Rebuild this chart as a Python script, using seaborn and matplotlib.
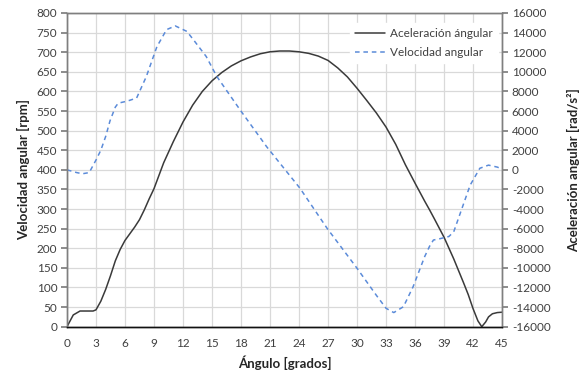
# Ángulo vs velocidad / aceleración angular (twin y axes)

import numpy as np
import pandas as pd
import matplotlib
matplotlib.use("Agg")
import matplotlib.pyplot as plt
import seaborn as sns

# curva negra (eje izquierdo, rpm)
ang_negra = [0, 0.65, 1.35, 2, 2.7, 3, 3.5, 4, 4.5, 5, 5.5, 6, 6.5, 7, 7.5, 8,
             8.5, 9, 10, 11, 12, 13, 14, 15, 16, 17, 18, 19, 20, 21, 22, 23, 24,
             25, 26, 27, 28, 29, 30, 31, 32, 33, 34, 35, 36, 37, 37.5, 38, 39,
             40, 41, 41.5, 42, 42.5, 42.9, 43.3, 43.6, 44, 44.5, 45]
val_negra = [0, 30, 40, 40, 40, 43, 65, 95, 130, 168, 197, 220, 237, 254, 273,
             298, 326, 352, 418, 472, 522, 565, 600, 627, 648, 665, 678, 688,
             696, 701, 703, 703, 701, 697, 690, 679, 660, 637, 608, 577, 545, 509,
             465, 413, 366, 320, 298, 275, 228, 173, 113, 82, 46, 15, 0, 12, 25,
             33, 36, 37]

# curva azul discontinua (eje derecho, rad/s²)
ang_azul = [0, 1, 1.6, 2.3, 3, 3.5, 4, 4.45, 5, 5.3, 6.2, 7.2, 8.2, 9.3, 10.3,
            11.2, 12.4, 13.1, 14.4, 15.5, 17.9, 20.65, 24.1, 26.9, 30, 32, 33,
            33.8, 34.8, 35.8, 37, 37.5, 37.9, 38.5, 39.5, 40, 40.9, 41.7, 42.7,
            43.6, 44.5, 45]
val_azul = [0, -280, -400, -280, 1000, 2000, 3400, 5000, 6400, 6800, 7000, 7320,
            9500, 12560, 14300, 14680, 14120, 13240, 11560, 9520, 6120, 2360,
            -1880, -5960, -10040, -12800, -14120, -14560, -13960, -11920, -8840,
            -7800, -7160, -7040, -6800, -6320, -3800, -1560, 160, 480, 280, 80]

xticks = list(range(0, 46, 3))
yticks_izq = list(range(0, 801, 50))
yticks_der = list(range(-16000, 16001, 2000))

df_negra = pd.DataFrame({"ang": ang_negra, "val": val_negra})
df_azul = pd.DataFrame({"ang": ang_azul, "val": val_azul})

sns.set_theme(style="white")
plt.rcParams["font.family"] = ["Lato", "DejaVu Sans"]
plt.rcParams["axes.unicode_minus"] = False

fig = plt.figure(figsize=(5.84, 3.78), dpi=100)
ax = fig.add_axes([0.1147, 0.1357, 0.745, 0.83])
ax2 = ax.twinx()

sns.lineplot(data=df_negra, x="ang", y="val", ax=ax, color="#3a3a3a",
             linewidth=1.1, label="Aceleración ángular", legend=False)
sns.lineplot(data=df_azul, x="ang", y="val", ax=ax2, color="#5b8bd9",
             linewidth=1.1, linestyle=(0, (3, 2.5)), label="Velocidad angular",
             legend=False)

ax.set_xlim(0, 45)
ax.set_ylim(0, 800)
ax2.set_ylim(-16000, 16000)
ax.set_xticks(xticks)
ax.set_yticks(yticks_izq)
ax2.set_yticks(yticks_der)

ax.grid(True, color="#d9d9d9", linewidth=0.9)
ax.set_axisbelow(True)
ax2.grid(False)

for a in (ax, ax2):
    for s in a.spines.values():
        s.set_color("#7f7f7f")
        s.set_linewidth(1.0)
ax.spines["bottom"].set_color("#111111")
ax2.spines["bottom"].set_color("#111111")

ax.tick_params(axis="y", direction="out", length=4, color="#7f7f7f",
               labelsize=8.5, pad=3, left=True)
ax.tick_params(axis="x", length=0, labelsize=8.5, pad=8)
ax2.tick_params(axis="y", direction="out", length=4, color="#7f7f7f",
                labelsize=8.5, pad=3, right=True)
for t in ax.get_xticklabels() + ax.get_yticklabels() + ax2.get_yticklabels():
    t.set_color("#404040")

ax.set_xlabel("Ángulo [grados]", fontsize=9.5, fontweight="bold", labelpad=5)
ax.set_ylabel("Velocidad angular [rpm]", fontsize=9.5, fontweight="bold", labelpad=5)
ax2.set_ylabel("Aceleración angular [rad/s²]", fontsize=9.5, fontweight="bold",
               labelpad=12, rotation=90)

h1, l1 = ax.get_legend_handles_labels()
h2, l2 = ax2.get_legend_handles_labels()
leg = ax2.legend(h1 + h2, l1 + l2, loc="upper right",
                 bbox_to_anchor=(0.995, 0.975), frameon=True, fontsize=8.5,
                 handlelength=2.6, handletextpad=0.4, labelspacing=0.7,
                 borderaxespad=0.2)
leg.get_frame().set_facecolor("white")
leg.get_frame().set_edgecolor("white")
leg.get_frame().set_alpha(1)
for t in leg.get_texts():
    t.set_color("#404040")

fig.savefig("out.png", dpi=100)
